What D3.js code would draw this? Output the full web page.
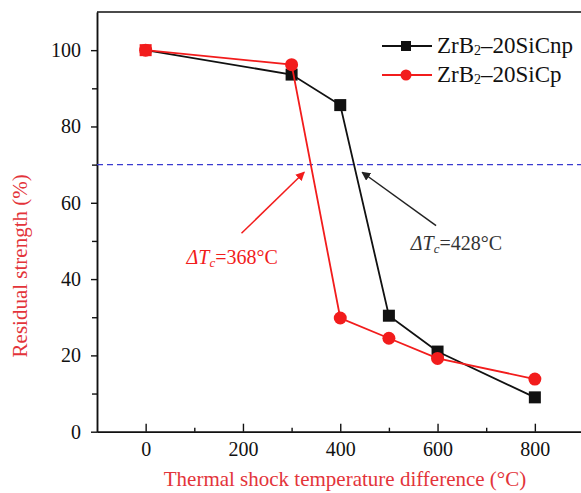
<!DOCTYPE html>
<html>
<head>
<meta charset="utf-8">
<script src="https://cdn.jsdelivr.net/npm/d3@7/dist/d3.min.js"></script>
<style>
  body { margin: 0; background: #fff; }
  svg { display: block; }
  text { font-family: "Liberation Serif", "Times New Roman", serif; }
</style>
</head>
<body>
<div id="chart"></div>
<script>
// values
const temps = [0, 300, 400, 500, 600, 800];
const strengthNp = [100, 93.6, 85.6, 30.4, 21, 9];
const strengthP = [100, 96.2, 29.8, 24.5, 19.2, 13.8];
const seriesNames = ['ZrB2-20SiCnp', 'ZrB2-20SiCp'];
const xTicks = [0, 200, 400, 600, 800];
const xMinor = [100, 300, 500, 700];
const yTicks = [0, 20, 40, 60, 80, 100];
const yMinor = [10, 30, 50, 70, 90];
const criticalLevel = 70;
const tcLabels = ['368', '428'];

const width = 581, height = 493;
const red = '#f21c1c', black = '#111', titleRed = '#e3343a';

const svg = d3.select('#chart').append('svg')
  .attr('width', width).attr('height', height);

const x = d3.scaleLinear().domain([-100, 900]).range([97, 583.5]);
const y = d3.scaleLinear().domain([0, 110]).range([431.7, 12]);

const defs = svg.append('defs');
[['arrRed', red], ['arrBlack', '#222']].forEach(([id, c]) => {
  defs.append('marker')
    .attr('id', id).attr('viewBox', '0 0 10 10')
    .attr('refX', 9).attr('refY', 5)
    .attr('markerWidth', 9).attr('markerHeight', 9)
    .attr('markerUnits', 'userSpaceOnUse')
    .attr('orient', 'auto')
    .append('path').attr('d', 'M0,0 L10,5 L0,10 Z').attr('fill', c);
});

// frame (top + right)
svg.append('path')
  .attr('d', `M${x(-100)},${y(110)} H${x(900)} V${y(0)}`)
  .attr('fill', 'none').attr('stroke', '#111').attr('stroke-width', 1.5);

// axes
const styleAxis = g => {
  g.select('.domain').attr('stroke', '#111').attr('stroke-width', 1.5);
  g.selectAll('.tick line').attr('stroke', '#111').attr('stroke-width', 1.4);
  g.selectAll('.tick text').attr('fill', '#111').attr('font-size', 20)
    .attr('font-family', '"Liberation Serif", "Times New Roman", serif');
};

svg.append('g')
  .attr('transform', `translate(0,${y(0)})`)
  .call(d3.axisBottom(x).tickValues(xMinor).tickSize(-4).tickSizeOuter(0).tickFormat(''))
  .call(styleAxis);
svg.append('g')
  .attr('transform', `translate(0,${y(0)})`)
  .call(d3.axisBottom(x).tickValues(xTicks).tickSize(-8).tickSizeOuter(0).tickPadding(10))
  .call(styleAxis);

svg.append('g')
  .attr('transform', `translate(${x(-100)},0)`)
  .call(d3.axisLeft(y).tickValues(yMinor).tickSize(5).tickSizeOuter(0).tickFormat(''))
  .call(styleAxis);
svg.append('g')
  .attr('transform', `translate(${x(-100)},0)`)
  .call(d3.axisLeft(y).tickValues(yTicks).tickSize(6).tickSizeOuter(0).tickPadding(10))
  .call(styleAxis);

// critical strength level
svg.append('line')
  .attr('x1', x(-100)).attr('x2', x(900))
  .attr('y1', y(criticalLevel)).attr('y2', y(criticalLevel))
  .attr('stroke', '#3b3bd0').attr('stroke-width', 1.3)
  .attr('stroke-dasharray', '6,4');

// series
const line = d3.line().x(d => x(d[0])).y(d => y(d[1]));
const ptsNp = temps.map((t, i) => [t, strengthNp[i]]);
const ptsP = temps.map((t, i) => [t, strengthP[i]]);

svg.append('path').datum(ptsNp).attr('d', line)
  .attr('fill', 'none').attr('stroke', black).attr('stroke-width', 1.8);
svg.selectAll('.sq').data(ptsNp).join('rect')
  .attr('class', 'sq')
  .attr('x', d => x(d[0]) - 6).attr('y', d => y(d[1]) - 6)
  .attr('width', 12).attr('height', 12)
  .attr('fill', (d, i) => i === 0 ? red : black);

svg.append('path').datum(ptsP).attr('d', line)
  .attr('fill', 'none').attr('stroke', red).attr('stroke-width', 1.8);
svg.selectAll('.dot').data(ptsP).join('circle')
  .attr('class', 'dot')
  .attr('cx', d => x(d[0])).attr('cy', d => y(d[1])).attr('r', 6.5)
  .attr('fill', red);

// annotations
svg.append('line')
  .attr('x1', x(197)).attr('y1', y(52)).attr('x2', x(326)).attr('y2', y(68))
  .attr('stroke', red).attr('stroke-width', 1.5).attr('marker-end', 'url(#arrRed)');
svg.append('line')
  .attr('x1', x(597)).attr('y1', y(54)).attr('x2', x(445)).attr('y2', y(68))
  .attr('stroke', '#222').attr('stroke-width', 1.5).attr('marker-end', 'url(#arrBlack)');

function tcLabel(xv, yv, val, color) {
  const t = svg.append('text')
    .attr('x', x(xv)).attr('y', y(yv))
    .attr('fill', color).attr('font-size', 20);
  t.append('tspan').attr('font-style', 'italic').text('ΔT');
  t.append('tspan').attr('font-style', 'italic').attr('font-size', 13).attr('dy', 3).text('c');
  t.append('tspan').attr('dy', -3).text(`=${val}°C`);
}
tcLabel(84, 44, tcLabels[0], red);
tcLabel(545, 47.5, tcLabels[1], '#333');

// legend
const legend = svg.append('g');
[[black, 'square'], [red, 'circle']].forEach(([c, shape], i) => {
  const ly = 46 + i * 29;
  const g = legend.append('g');
  g.append('line').attr('x1', 382).attr('x2', 432).attr('y1', ly).attr('y2', ly)
    .attr('stroke', c).attr('stroke-width', 1.8);
  if (shape === 'square') {
    g.append('rect').attr('x', 401).attr('y', ly - 5).attr('width', 10).attr('height', 10).attr('fill', c);
  } else {
    g.append('circle').attr('cx', 406).attr('cy', ly).attr('r', 5.5).attr('fill', c);
  }
  const name = seriesNames[i];
  const t = g.append('text').attr('x', 437).attr('y', ly + 7)
    .attr('font-size', 23).attr('fill', '#111');
  t.append('tspan').text(name.slice(0, 3));
  t.append('tspan').attr('font-size', 14).attr('dy', 2).text(name.slice(3, 4));
  t.append('tspan').attr('dy', -2).text(name.slice(4).replace('-', '–'));
});

// axis titles
svg.append('text')
  .attr('transform', `translate(27,${(y(0) + y(110)) / 2 + 44}) rotate(-90)`)
  .attr('text-anchor', 'middle').attr('fill', titleRed).attr('font-size', 21)
  .text('Residual strength (%)');
svg.append('text')
  .attr('x', 345).attr('y', 486)
  .attr('text-anchor', 'middle').attr('fill', titleRed).attr('font-size', 21)
  .text('Thermal shock temperature difference (°C)');
</script>
</body>
</html>
